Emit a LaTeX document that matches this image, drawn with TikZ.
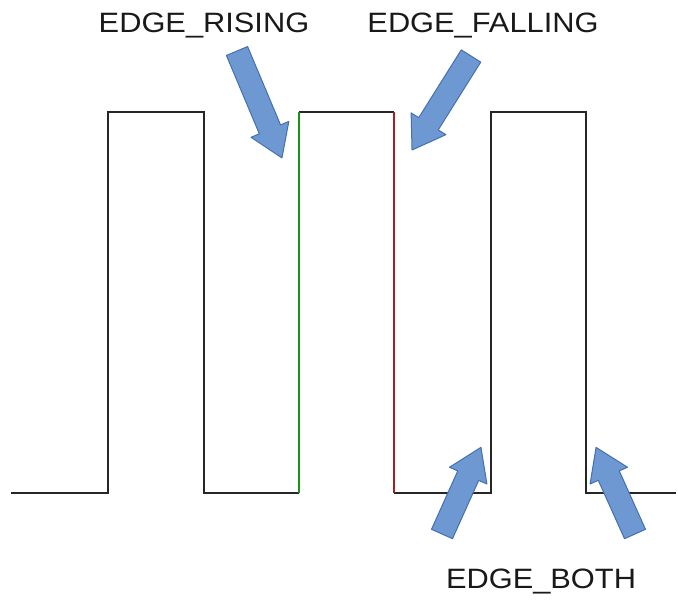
\documentclass[tikz,border=0pt]{standalone}
\usepackage{fontspec}
\setmainfont{Liberation Sans}
\definecolor{arrowfill}{RGB}{110,152,210}
\definecolor{arrowline}{RGB}{68,112,178}
\definecolor{risegreen}{RGB}{20,150,20}
\definecolor{fallred}{RGB}{170,30,30}
\tikzset{
  wave/.style={draw=black!85, line width=1.8pt, line join=miter},
  edgeline/.style={line width=2pt},
  blockarrow/.style={fill=arrowfill, draw=arrowline, line width=1pt, line join=round},
  lbl/.style={font=\fontsize{28}{32}\selectfont, text=black!90, anchor=base, inner sep=0pt, xscale=1.1}
}
\newcommand\fatarrow[3]{%
  \begin{scope}[shift={(#1)}, rotate=#2]
    \draw[blockarrow] (0,-11.5) -- ({#3-31},-11.5) -- ({#3-31},-20.5) -- (#3,0)
      -- ({#3-31},20.5) -- ({#3-31},11.5) -- (0,11.5) -- cycle;
  \end{scope}}
\begin{document}
\begin{tikzpicture}[x=1pt,y=-1pt]
  \useasboundingbox (0,0) rectangle (678,604);
  % waveform points
  \coordinate (p0) at (11,493);
  \coordinate (p1) at (108,493);
  \coordinate (p2) at (108,112);
  \coordinate (p3) at (204,112);
  \coordinate (p4) at (204,493);
  \coordinate (p5) at (299,493);
  \coordinate (p6) at (299,112);
  \coordinate (p7) at (394,112);
  \coordinate (p8) at (394,493);
  \coordinate (p9) at (491,493);
  \coordinate (p10) at (491,112);
  \coordinate (p11) at (586,112);
  \coordinate (p12) at (586,493);
  \coordinate (p13) at (676,493);
  \draw[wave] (p0) -- (p1) -- (p2) -- (p3) -- (p4) -- (p5);
  \draw[wave] (p6) -- (p7);
  \draw[wave] (p8) -- (p9) -- (p10) -- (p11) -- (p12) -- (p13);
  \draw[edgeline, risegreen] (p5) -- (p6);
  \draw[edgeline, fallred] (p7) -- (p8);
  % block arrows: tail point, angle, length
  \coordinate (t1) at (237,51);
  \coordinate (t2) at (471,56);
  \coordinate (t3) at (442,534);
  \coordinate (t4) at (635,534);
  \fatarrow{t1}{-67.2}{116}
  \fatarrow{t2}{-122.1}{111}
  \fatarrow{t3}{65.8}{95}
  \fatarrow{t4}{114.2}{95}
  % labels
  \node[lbl] (rising) at (204,33) {EDGE\_RISING};
  \node[lbl] (falling) at (483,33) {EDGE\_FALLING};
  \node[lbl] (both) at (541,588) {EDGE\_BOTH};
\end{tikzpicture}
\end{document}
